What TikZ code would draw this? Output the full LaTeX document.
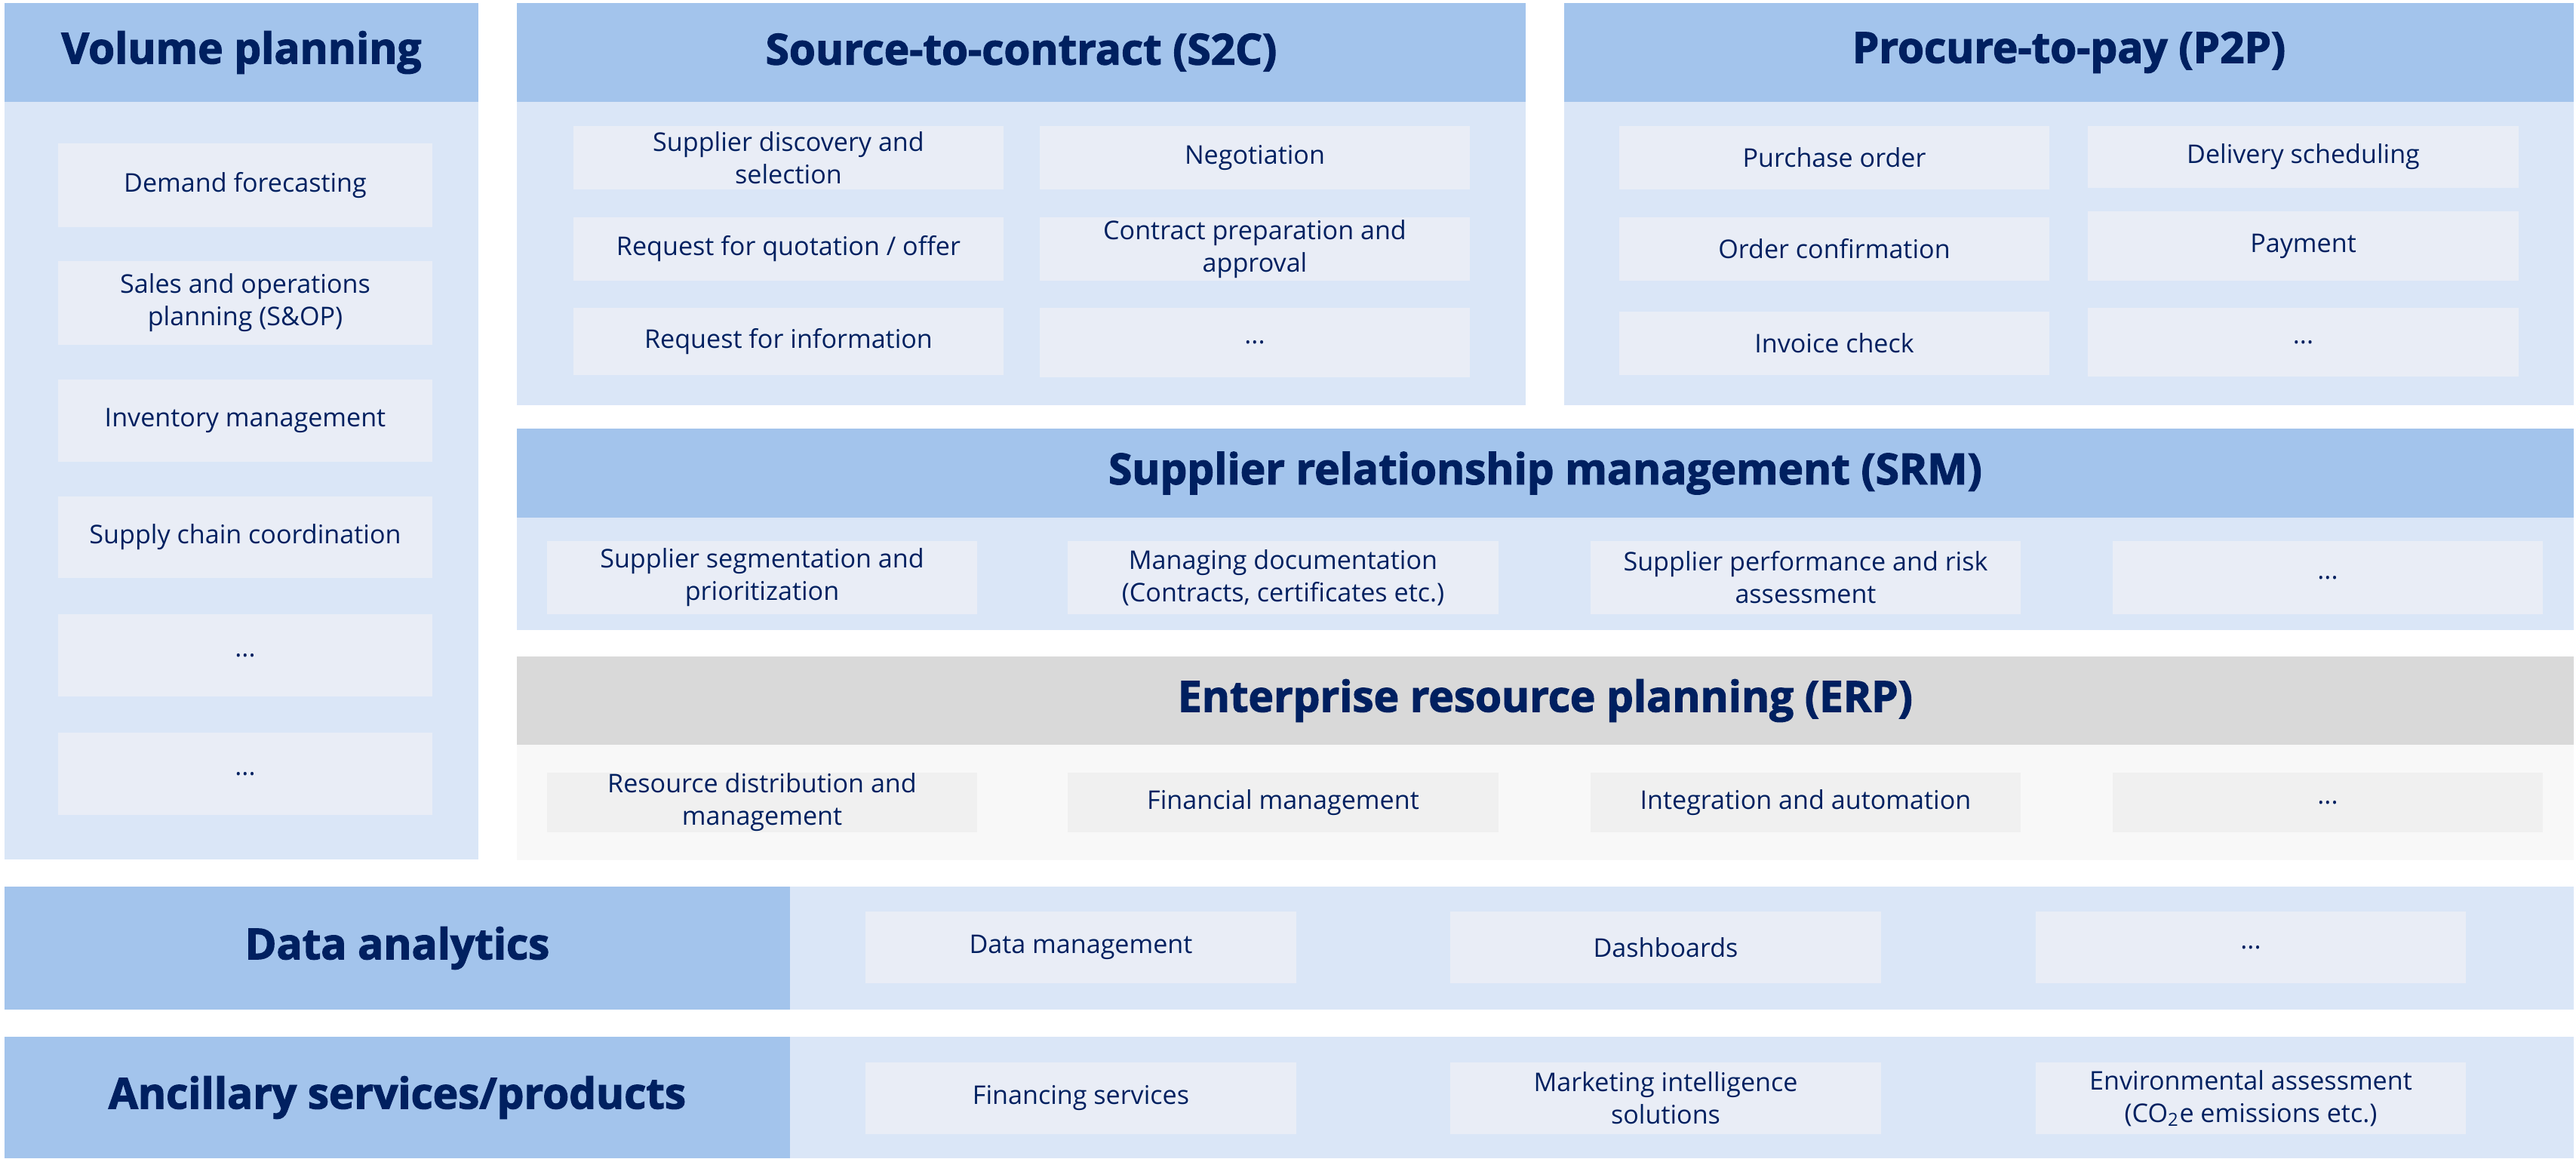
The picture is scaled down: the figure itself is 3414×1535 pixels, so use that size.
\documentclass[tikz,border=0pt]{standalone}
\usepackage{fontspec}
\setmainfont{Open Sans}
\newfontfamily\hdrfont{Open Sans}[BoldFeatures={FakeBold=2.2}]
\usetikzlibrary{fit}
\definecolor{hdr}{HTML}{A3C4EC}
\definecolor{bodyc}{HTML}{DAE6F7}
\definecolor{itemc}{HTML}{E9EDF6}
\definecolor{ghdr}{HTML}{D9D9D9}
\definecolor{gbody}{HTML}{F8F8F8}
\definecolor{gitem}{HTML}{F0F0F0}
\definecolor{navy}{HTML}{002060}
\begin{document}
\begin{tikzpicture}[x=0.01cm,y=-0.01cm,
  box/.style={inner sep=0pt, outer sep=0pt, draw=none},
  hdrbox/.style={box, fill=hdr},
  ghdrbox/.style={box, fill=ghdr},
  bodybox/.style={box, fill=bodyc},
  gbodybox/.style={box, fill=gbody},
  item/.style={box, fill=itemc},
  gitembox/.style={box, fill=gitem},
  htxt/.style={inner sep=0pt, align=center, text=navy, font=\hdrfont\fontsize{16.1}{19}\selectfont\bfseries},
  itxt/.style={inner sep=0pt, align=center, text=navy, font=\fontsize{9.7}{12.2}\selectfont},
]
\useasboundingbox (0,0) rectangle (3414,1535);
\fill[white] (0,0) rectangle (3414,1535);

% Volume planning
\node[bodybox, fit={(6,4) (634,1139)}] (vpbody) {};
\node[hdrbox, fit={(6,4) (634,135)}] (vphdr) {};
\node[htxt] (vphdrt) at (vphdr.center) {Volume planning};
\node[item, fit={(77,190) (573,301)}] (v1) {};
\node[itxt] (v1t) at (v1.center) {Demand forecasting};
\node[item, fit={(77,346) (573,457)}] (v2) {};
\node[itxt] (v2t) at (v2.center) {Sales and operations\\planning (S\&OP)};
\node[item, fit={(77,503) (573,612)}] (v3) {};
\node[itxt] (v3t) at (v3.center) {Inventory management};
\node[item, fit={(77,658) (573,766)}] (v4) {};
\node[itxt] (v4t) at (v4.center) {Supply chain coordination};
\node[item, fit={(77,814) (573,923)}] (v5) {};
\node[itxt] (v5t) at (v5.center) {...};
\node[item, fit={(77,971) (573,1080)}] (v6) {};
\node[itxt] (v6t) at (v6.center) {...};

% Source-to-contract
\node[bodybox, fit={(685,4) (2022,537)}] (s2cbody) {};
\node[hdrbox, fit={(685,4) (2022,135)}] (s2chdr) {};
\node[htxt] (s2chdrt) at (s2chdr.center) {Source-to-contract (S2C)};
\node[item, fit={(760,167) (1330,251)}] (s1) {};
\node[itxt] (s1t) at (s1.center) {Supplier discovery and\\selection};
\node[item, fit={(1378,167) (1948,251)}] (s2) {};
\node[itxt] (s2t) at (s2.center) {Negotiation};
\node[item, fit={(760,288) (1330,372)}] (s3) {};
\node[itxt] (s3t) at (s3.center) {Request for quotation / offer};
\node[item, fit={(1378,288) (1948,372)}] (s4) {};
\node[itxt] (s4t) at (s4.center) {Contract preparation and\\approval};
\node[item, fit={(760,408) (1330,497)}] (s5) {};
\node[itxt] (s5t) at (s5.center) {Request for information};
\node[item, fit={(1378,408) (1948,500)}] (s6) {};
\node[itxt] (s6t) at (s6.center) {...};

% Procure-to-pay
\node[bodybox, fit={(2073,4) (3411,537)}] (p2pbody) {};
\node[hdrbox, fit={(2073,4) (3411,135)}] (p2phdr) {};
\node[htxt] (p2phdrt) at (p2phdr.center) {Procure-to-pay (P2P)};
\node[item, fit={(2146,167) (2716,251)}] (p1) {};
\node[itxt] (p1t) at (p1.center) {Purchase order};
\node[item, fit={(2767,167) (3338,249)}] (p2) {};
\node[itxt] (p2t) at (p2.center) {Delivery scheduling};
\node[item, fit={(2146,288) (2716,372)}] (p3) {};
\node[itxt] (p3t) at (p3.center) {Order confirmation};
\node[item, fit={(2767,280) (3338,372)}] (p4) {};
\node[itxt] (p4t) at (p4.center) {Payment};
\node[item, fit={(2146,413) (2716,497)}] (p5) {};
\node[itxt] (p5t) at (p5.center) {Invoice check};
\node[item, fit={(2767,408) (3338,499)}] (p6) {};
\node[itxt] (p6t) at (p6.center) {...};

% SRM
\node[bodybox, fit={(685,568) (3411,835)}] (srmbody) {};
\node[hdrbox, fit={(685,568) (3411,686)}] (srmhdr) {};
\node[htxt] (srmhdrt) at (srmhdr.center) {Supplier relationship management (SRM)};
\node[item, fit={(725,717) (1295,814)}] (r1) {};
\node[itxt] (r1t) at (r1.center) {Supplier segmentation and\\prioritization};
\node[item, fit={(1415,717) (1986,814)}] (r2) {};
\node[itxt] (r2t) at (r2.center) {Managing documentation\\(Contracts, certificates etc.)};
\node[item, fit={(2108,717) (2678,814)}] (r3) {};
\node[itxt] (r3t) at (r3.center) {Supplier performance and risk\\assessment};
\node[item, fit={(2800,717) (3370,814)}] (r4) {};
\node[itxt] (r4t) at (r4.center) {...};

% ERP
\node[gbodybox, fit={(685,870) (3411,1140)}] (erpbody) {};
\node[ghdrbox, fit={(685,870) (3411,987)}] (erphdr) {};
\node[htxt] (erphdrt) at (erphdr.center) {Enterprise resource planning (ERP)};
\node[gitembox, fit={(725,1024) (1295,1103)}] (e1) {};
\node[itxt] (e1t) at (e1.center) {Resource distribution and\\management};
\node[gitembox, fit={(1415,1024) (1986,1103)}] (e2) {};
\node[itxt] (e2t) at (e2.center) {Financial management};
\node[gitembox, fit={(2108,1024) (2678,1103)}] (e3) {};
\node[itxt] (e3t) at (e3.center) {Integration and automation};
\node[gitembox, fit={(2800,1024) (3370,1103)}] (e4) {};
\node[itxt] (e4t) at (e4.center) {...};

% Data analytics
\node[bodybox, fit={(6,1175) (3411,1338)}] (dabody) {};
\node[hdrbox, fit={(6,1175) (1047,1338)}] (dahdr) {};
\node[htxt] (dahdrt) at (dahdr.center) {Data analytics};
\node[item, fit={(1147,1208) (1718,1303)}] (d1) {};
\node[itxt] (d1t) at (d1.center) {Data management};
\node[item, fit={(1922,1208) (2493,1303)}] (d2) {};
\node[itxt] (d2t) at (d2.center) {Dashboards};
\node[item, fit={(2698,1208) (3268,1303)}] (d3) {};
\node[itxt] (d3t) at (d3.center) {...};

% Ancillary
\node[bodybox, fit={(6,1374) (3411,1535)}] (anbody) {};
\node[hdrbox, fit={(6,1374) (1047,1535)}] (anhdr) {};
\node[htxt] (anhdrt) at (anhdr.center) {Ancillary services/products};
\node[item, fit={(1147,1408) (1718,1503)}] (a1) {};
\node[itxt] (a1t) at (a1.center) {Financing services};
\node[item, fit={(1922,1408) (2493,1503)}] (a2) {};
\node[itxt] (a2t) at (a2.center) {Marketing intelligence\\solutions};
\node[item, fit={(2698,1408) (3268,1503)}] (a3) {};
\node[itxt] (a3t) at (a3.center) {Environmental assessment\\(CO\textsubscript{2}e emissions etc.)};
\end{tikzpicture}
\end{document}
